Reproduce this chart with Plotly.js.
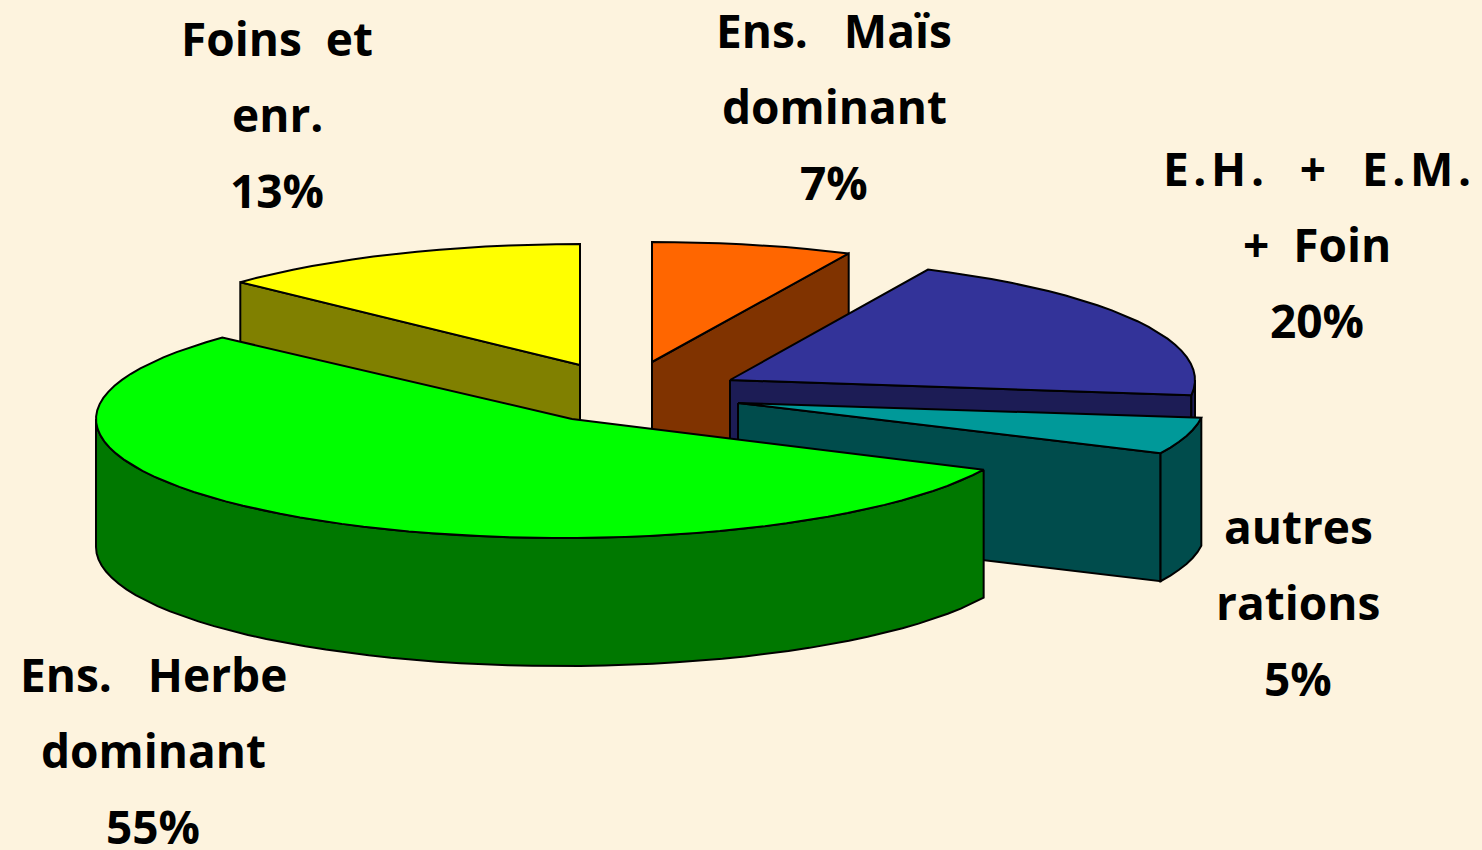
<!DOCTYPE html>
<html><head><meta charset="utf-8">
<script src="https://cdn.plot.ly/plotly-3.0.1.min.js"></script>
<style>html,body{margin:0;padding:0;background:#FDF3DE;overflow:hidden}#c{width:1482px;height:850px}</style>
</head><body><div id="c"></div>
<script>
// Data, clockwise from 12 o'clock
const categories = ["Ens. Maïs dominant","E.H. + E.M. + Foin","autres rations","Ens. Herbe dominant","Foins et enr."];
const shares = [7,20,5,55,13];
const labelLines = [["Ens.\u00A0\u00A0\u00A0Maïs","dominant"],["E\u200A.\u200AH\u200A.\u00A0\u00A0\u00A0+\u00A0\u00A0\u00A0E\u200A.\u200AM\u200A.","+\u00A0\u00A0Foin"],["autres","rations"],["Ens.\u00A0\u00A0\u00A0Herbe","dominant"],["Foins\u00A0\u00A0et","enr."]];

// Styling and exploded-pie geometry (screen-like axis units)
const topColors  = ["#FF6600","#333399","#009999","#00FF00","#FFFF00"];
const sideColors = ["#803300","#1C1C55","#004C4C","#007800","#808000"];
const centerX = [652,730,738,562,580];
const centerY = [362,380,403,419,365];
const apexX = [652,730,738,572,580];
const radX = [462,465,467,466,466];
const radY = [120,122,118,119,121];
const depth = 128;
const labelX = [834,1317,1298,153,277];
const labelY = [30,168,526,674,38];
const lineGap = 76;
const drawOrder = [4,0,1,2,3];

let cum = 0;
const ranges = shares.map(s => { const r=[cum*3.6,(cum+s)*3.6]; cum+=s; return r; });
const rad = d => d*Math.PI/180;
function pt(i,a,dz){ return [centerX[i]+radX[i]*Math.sin(rad(a)), centerY[i]-radY[i]*Math.cos(rad(a))+(dz||0)]; }
function arc(i,a0,a1,dz){ const n=Math.max(2,Math.ceil(Math.abs(a1-a0)/3)),o=[]; for(let k=0;k<=n;k++) o.push(pt(i,a0+(a1-a0)*k/n,dz)); return o; }
function poly(pts,color,name){
  const c=pts.concat([pts[0]]);
  return {type:"scatter",mode:"lines",x:c.map(p=>p[0]),y:c.map(p=>p[1]),fill:"toself",fillcolor:color,
    line:{color:"#000",width:2},hoverinfo:"skip",name:name,showlegend:false};
}
const traces=[];
drawOrder.forEach(i=>{
  const [a0,a1]=ranges[i], name=categories[i], c=[apexX[i],centerY[i]];
  const face=a=>{const e=pt(i,a);return [c,e,[e[0],e[1]+depth],[c[0],c[1]+depth]];};
  if(a0>180 && a0<360) traces.push(poly(face(a0),sideColors[i],name));
  if(a1<180 && a1>0) traces.push(poly(face(a1),sideColors[i],name));
  const w0=Math.max(a0,90), w1=Math.min(a1,270);
  if(w1>w0) traces.push(poly(arc(i,w0,w1,0).concat(arc(i,w1,w0,depth)),sideColors[i],name));
  traces.push(poly([c].concat(arc(i,a0,a1,0)),topColors[i],name));
});
const annotations=[];
labelLines.forEach((ls,i)=>{
  ls.concat([shares[i]+"%"]).forEach((t,k)=>annotations.push({x:labelX[i],y:labelY[i]+k*lineGap,xref:"x",yref:"y",text:"<b>"+t+"</b>",
    showarrow:false,xanchor:"center",yanchor:"middle",font:{family:"Open Sans, Noto Sans, sans-serif",size:46,color:"#000"}}));
});
const hidden={visible:false,fixedrange:true};
Plotly.newPlot("c",traces,{width:1482,height:850,margin:{l:0,r:0,t:0,b:0},paper_bgcolor:"#FDF3DE",plot_bgcolor:"#FDF3DE",showlegend:false,
  xaxis:Object.assign({range:[0,1482]},hidden),yaxis:Object.assign({range:[850,0]},hidden),annotations:annotations},{displayModeBar:false,staticPlot:true});
</script></body></html>
